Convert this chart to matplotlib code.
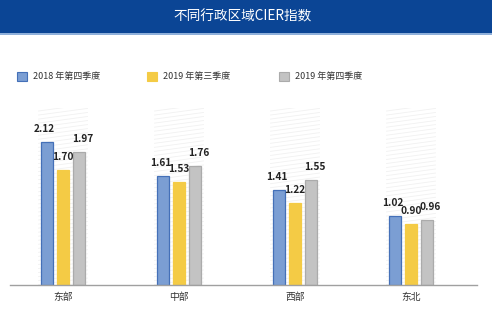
import numpy as np
import matplotlib.pyplot as plt
from matplotlib.patches import Rectangle

plt.rcParams['font.family'] = ['Noto Sans CJK SC', 'DejaVu Sans']

# data
regions = ['东部', '中部', '西部', '东北']
series_names = ['2018 年第四季度', '2019 年第三季度', '2019 年第四季度']
q4_2018 = [2.12, 1.61, 1.41, 1.02]
q3_2019 = [1.70, 1.53, 1.22, 0.90]
q4_2019 = [1.97, 1.76, 1.55, 0.96]

face_colors = ['#7B9ED3', '#F4CB45', '#C3C3C3']
edge_colors = ['#4470B8', '#F4CB45', '#ABABAB']

W, H = 497, 322
fig = plt.figure(figsize=(W / 100, H / 100), dpi=100)

# header band
fig.patches.append(Rectangle((0, 1 - 33 / H), 492 / W, 33 / H, transform=fig.transFigure,
                             facecolor='#0B4595', edgecolor='none', zorder=0))
fig.patches.append(Rectangle((0, 1 - 34.5 / H), 492 / W, 1.5 / H, transform=fig.transFigure,
                             facecolor='#8FB0DA', edgecolor='none', zorder=0))
fig.text(243 / W, 1 - 16 / H, '不同行政区域CIER指数', color='white', fontsize=9.8,
         ha='center', va='center')

# axes placed in pixel coords: baseline y=284.7, left 10, right 477
ax_left, ax_right, ax_bottom, ax_top = 10, 477, 284.7, 95
ax = fig.add_axes([ax_left / W, 1 - ax_bottom / H, (ax_right - ax_left) / W,
                   (ax_bottom - ax_top) / H])
px_per_unit = 67.3
ymax = (ax_bottom - ax_top) / px_per_unit
ax.set_ylim(0, ymax)
ax.set_xlim((ax_left - 63) / 116, (ax_right - 63) / 116)

x = np.arange(len(regions))
width = 0.095
offset = 0.138
all_series = [q4_2018, q3_2019, q4_2019]

# faint striped backdrop behind each group
clip = Rectangle((-1, 0), 6, 2.62, transform=ax.transData)
for xc in x:
    x0, x1 = xc - 0.215, xc + 0.215
    for yy in np.arange(-0.3, 2.62, 0.06):
        ln, = ax.plot([x0, x1], [yy, yy + 0.1], color='#F1F1F1', lw=0.6, zorder=0,
                      solid_capstyle='butt')
        ln.set_clip_path(clip)
ax.set_ylim(0, ymax)

label_shift = [-0.02, 0.0, 0.03]
for i, vals in enumerate(all_series):
    pos = x + (i - 1) * offset
    ax.bar(pos, vals, width, color=face_colors[i], edgecolor=edge_colors[i],
           linewidth=0.9, zorder=2, label=series_names[i])
    for p, v in zip(pos, vals):
        ax.text(p + label_shift[i], v + 0.12, f'{v:.2f}', ha='center', va='bottom',
                fontsize=7.3, fontweight='bold', color='#222222', zorder=3)

ax.set_xticks(x)
ax.set_xticklabels(regions, fontsize=7, color='#333333')
ax.tick_params(axis='x', length=0, pad=5)
ax.set_yticks([])
for s in ['top', 'right', 'left']:
    ax.spines[s].set_visible(False)
ax.spines['bottom'].set_color('#A0A0A0')
ax.spines['bottom'].set_linewidth(1.0)

# legend drawn manually in figure pixels
leg_x = [17, 147, 279]
for i, name in enumerate(series_names):
    fig.patches.append(Rectangle((leg_x[i] / W, 1 - 81 / H), 9.5 / W, 9.5 / H,
                                 transform=fig.transFigure, facecolor=face_colors[i],
                                 edgecolor=edge_colors[i], linewidth=0.8))
    fig.text((leg_x[i] + 16) / W, 1 - 76 / H, name, fontsize=6.5, color='#333333',
             ha='left', va='center')

fig.savefig('out.png', dpi=100, facecolor='white')
